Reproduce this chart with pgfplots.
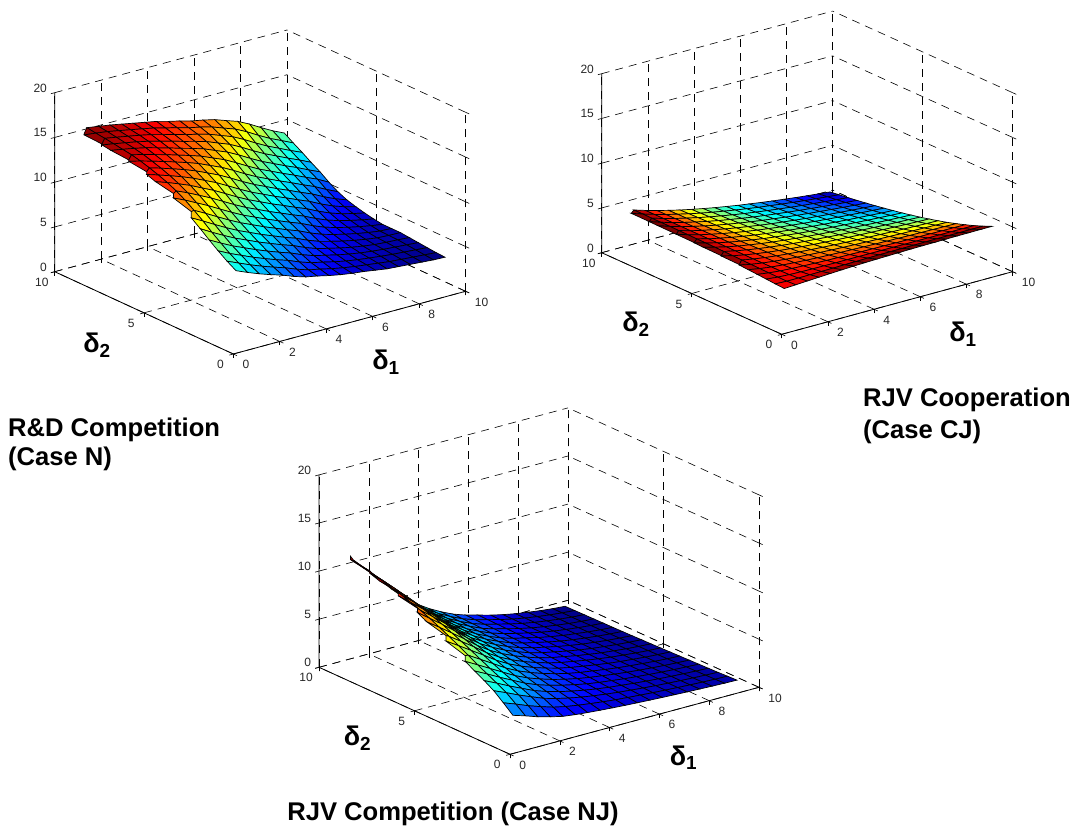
\documentclass[border=0pt]{standalone}
\usepackage{pgfplots}
\pgfplotsset{compat=1.18}
\usepackage{fontspec}
\setmainfont{Liberation Sans}
\pgfplotsset{
 base/.style={
  xmin=0,xmax=10,ymin=0,ymax=10,zmin=0,zmax=20,
  xtick={0,2,4,6,8,10},ytick={0,5,10},ztick={0,5,10,15,20},
  grid=major,
  grid style={black,line width=0.6bp,dash pattern=on 8bp off 6bp},
  tick align=outside, major tick length=4bp,
  tick pos=left,
  tick style={black,line width=0.6bp},
  axis line style={draw=none},
  /pgf/number format/assume math mode=true,
  ticklabel style={font=\fontsize{12bp}{12bp}\selectfont,text=black!85,inner sep=0pt},
  xticklabel style={anchor=west,xshift=5.5bp,yshift=-9bp},
  yticklabel style={anchor=center,xshift=-9bp,yshift=-9.5bp},
  zticklabel style={anchor=east,xshift=-4bp,yshift=3bp},
  colormap/jet, clip=false,
 },
 srf/.style={surf,shader=flat corner,draw=black,line width=0.7bp,mesh/cols=19},
}
\tikzset{
 bold/.style={font=\bfseries\fontsize{25.6bp}{28bp}\selectfont,inner sep=0pt},
 dlt/.style={font=\bfseries\fontsize{27bp}{28bp}\selectfont,inner sep=0pt},
}
\newcommand\axlines{
 \draw[black,line width=0.8bp] (axis cs:0,10,20) -- (axis cs:0,10,0) -- (axis cs:0,0,0) -- (axis cs:10,0,0);
}
\begin{document}
\begin{tikzpicture}
\useasboundingbox (0,0) rectangle (1079bp,832bp);
\begin{axis}[base,at={(233.3bp,478bp)},anchor=origin,
 x={(23.23bp,6.27bp)},y={(-17.86bp,8.23bp)},z={(0bp,8.95bp)}]
\addplot3[srf] table[x expr={0.5+0.5*mod(\coordindex,19)},y expr={0.5+0.5*floor(\coordindex/19)},z index=0]{
z
8.50
7.95
7.45
7.00
6.60
6.10
5.70
5.45
5.15
4.90
4.70
4.55
4.35
4.15
4.05
3.95
3.85
3.75
3.70
9.10
8.54
7.99
7.49
7.03
6.61
6.10
5.68
5.41
5.11
4.86
4.65
4.49
4.32
4.15
4.05
3.95
3.85
3.75
9.80
9.15
8.59
8.03
7.53
7.05
6.63
6.10
5.67
5.38
5.07
4.81
4.60
4.44
4.28
4.15
4.05
3.95
3.85
10.55
9.85
9.19
8.63
8.07
7.56
7.08
6.64
6.10
5.65
5.34
5.03
4.77
4.55
4.38
4.25
4.15
4.05
3.95
11.35
10.60
9.90
9.24
8.68
8.11
7.60
7.11
6.66
6.10
5.63
5.30
4.99
4.72
4.50
4.32
4.22
4.15
4.05
12.10
11.40
10.66
9.95
9.29
8.72
8.15
7.64
7.13
6.67
6.10
5.62
5.27
4.95
4.68
4.45
4.26
4.18
4.15
12.80
12.13
11.44
10.71
10.00
9.34
8.77
8.20
7.68
7.16
6.69
6.10
5.60
5.23
4.91
4.63
4.40
4.21
4.15
13.40
12.81
12.15
11.49
10.76
10.05
9.38
8.81
8.24
7.71
7.19
6.70
6.10
5.58
5.20
4.87
4.59
4.35
4.15
13.90
13.38
12.82
12.18
11.54
10.82
10.10
9.43
8.86
8.28
7.75
7.21
6.71
6.10
5.57
5.16
4.83
4.54
4.30
14.30
13.86
13.36
12.83
12.20
11.58
10.87
10.15
9.48
8.90
8.32
7.79
7.24
6.73
6.10
5.55
5.12
4.79
4.50
14.65
14.24
13.81
13.35
12.83
12.23
11.63
10.92
10.20
9.52
8.94
8.36
7.83
7.27
6.74
6.10
5.53
5.09
4.75
14.95
14.58
14.19
13.77
13.33
12.84
12.26
11.67
10.98
10.25
9.57
8.99
8.40
7.86
7.29
6.76
6.10
5.52
5.05
15.20
14.88
14.51
14.13
13.72
13.31
12.85
12.28
11.72
11.03
10.30
9.62
9.03
8.45
7.90
7.32
6.77
6.10
5.50
15.35
15.12
14.81
14.44
14.08
13.68
13.29
12.86
12.31
11.77
11.08
10.35
9.66
9.08
8.49
7.94
7.35
6.79
6.10
15.50
15.27
15.03
14.74
14.38
14.02
13.63
13.27
12.87
12.33
11.81
11.14
10.40
9.71
9.12
8.53
7.98
7.37
6.80
15.65
15.43
15.19
14.95
14.66
14.31
13.97
13.59
13.25
12.87
12.36
11.86
11.19
10.45
9.76
9.17
8.57
8.01
7.40
15.75
15.58
15.35
15.11
14.87
14.59
14.24
13.91
13.54
13.24
12.88
12.39
11.91
11.24
10.50
9.81
9.21
8.61
8.05
15.85
15.70
15.52
15.28
15.03
14.78
14.52
14.17
13.86
13.50
13.22
12.89
12.41
11.95
11.30
10.55
9.85
9.26
8.65
16.00
15.85
15.65
15.45
15.20
14.95
14.70
14.45
14.10
13.80
13.45
13.20
12.90
12.44
12.00
11.35
10.60
9.90
9.30
};
\axlines
\end{axis}
\begin{axis}[base,at={(781.7bp,497.7bp)},anchor=origin,
 x={(23.09bp,6.26bp)},y={(-18bp,8.16bp)},z={(0bp,8.95bp)}]
\addplot3[srf,point meta min=0.6,point meta max=4.8] table[x expr={0.5+0.5*mod(\coordindex,19)},y expr={0.5+0.5*floor(\coordindex/19)},z index=0]{
z
4.31
4.37
4.45
4.52
4.59
4.65
4.71
4.75
4.79
4.82
4.85
4.88
4.90
4.91
4.93
4.94
4.95
4.96
4.96
4.37
4.32
4.32
4.34
4.36
4.38
4.41
4.43
4.45
4.47
4.48
4.49
4.50
4.51
4.52
4.52
4.52
4.53
4.53
4.45
4.32
4.25
4.21
4.19
4.18
4.17
4.17
4.17
4.16
4.16
4.16
4.15
4.15
4.15
4.14
4.14
4.14
4.13
4.52
4.34
4.21
4.13
4.07
4.02
3.98
3.95
3.93
3.90
3.88
3.87
3.85
3.83
3.82
3.81
3.79
3.78
3.77
4.59
4.36
4.19
4.07
3.97
3.89
3.82
3.77
3.72
3.68
3.64
3.61
3.58
3.55
3.52
3.50
3.48
3.46
3.44
4.65
4.38
4.18
4.02
3.89
3.78
3.69
3.61
3.54
3.48
3.43
3.38
3.33
3.29
3.25
3.22
3.19
3.16
3.13
4.71
4.41
4.17
3.98
3.82
3.69
3.57
3.47
3.38
3.30
3.23
3.17
3.11
3.06
3.01
2.96
2.92
2.88
2.85
4.75
4.43
4.17
3.95
3.77
3.61
3.47
3.35
3.24
3.15
3.06
2.98
2.91
2.85
2.79
2.73
2.68
2.63
2.59
4.79
4.45
4.17
3.93
3.72
3.54
3.38
3.24
3.12
3.01
2.91
2.81
2.73
2.65
2.58
2.51
2.45
2.40
2.34
4.82
4.47
4.16
3.90
3.68
3.48
3.30
3.15
3.01
2.88
2.76
2.66
2.56
2.47
2.39
2.31
2.24
2.18
2.12
4.85
4.48
4.16
3.88
3.64
3.43
3.23
3.06
2.91
2.76
2.63
2.52
2.41
2.31
2.22
2.13
2.05
1.97
1.90
4.88
4.49
4.15
3.87
3.61
3.38
3.17
2.98
2.81
2.66
2.52
2.39
2.27
2.16
2.05
1.96
1.87
1.78
1.71
4.90
4.50
4.15
3.85
3.58
3.33
3.11
2.91
2.73
2.56
2.41
2.27
2.14
2.01
1.90
1.80
1.70
1.61
1.52
4.91
4.51
4.14
3.83
3.55
3.29
3.06
2.85
2.65
2.47
2.31
2.16
2.01
1.88
1.76
1.65
1.54
1.44
1.34
4.93
4.52
4.14
3.82
3.52
3.25
3.01
2.79
2.58
2.39
2.22
2.05
1.90
1.76
1.63
1.51
1.39
1.28
1.18
4.94
4.52
4.14
3.81
3.50
3.22
2.96
2.73
2.51
2.31
2.13
1.96
1.80
1.65
1.51
1.37
1.25
1.13
1.02
4.95
4.52
4.14
3.79
3.48
3.19
2.92
2.68
2.45
2.24
2.05
1.87
1.70
1.54
1.39
1.25
1.12
0.99
0.87
4.96
4.53
4.14
3.78
3.46
3.16
2.88
2.63
2.40
2.18
1.97
1.78
1.61
1.44
1.28
1.13
0.99
0.86
0.74
4.96
4.53
4.13
3.77
3.44
3.13
2.85
2.59
2.34
2.12
1.90
1.71
1.52
1.34
1.18
1.02
0.87
0.74
0.60
};
\axlines
\end{axis}
\begin{axis}[base,at={(510bp,77.7bp)},anchor=origin,
 x={(24.9bp,6.7bp)},y={(-19.1bp,8.7bp)},z={(0bp,9.62bp)}]
\addplot3[srf] table[x expr={0.5+0.5*mod(\coordindex,19)},y expr={0.5+0.5*floor(\coordindex/19)},z index=0]{
z
3.25
2.85
2.40
2.05
1.75
1.58
1.45
1.34
1.24
1.15
1.07
1.00
0.93
0.87
0.81
0.76
0.71
0.67
0.64
4.10
3.62
3.10
2.66
2.25
1.97
1.76
1.58
1.42
1.28
1.17
1.07
0.97
0.89
0.81
0.74
0.68
0.63
0.60
4.90
4.35
3.76
3.23
2.72
2.35
2.05
1.80
1.59
1.41
1.26
1.13
1.01
0.90
0.81
0.73
0.66
0.60
0.55
5.50
4.89
4.25
3.66
3.07
2.63
2.27
1.97
1.72
1.50
1.32
1.18
1.04
0.92
0.81
0.72
0.64
0.57
0.52
6.05
5.39
4.70
4.05
3.40
2.88
2.47
2.13
1.84
1.58
1.38
1.22
1.06
0.93
0.81
0.71
0.62
0.55
0.49
6.60
5.89
5.16
4.44
3.72
3.14
2.68
2.28
1.95
1.67
1.45
1.27
1.09
0.94
0.81
0.70
0.60
0.52
0.46
7.20
6.44
5.65
4.87
4.07
3.42
2.89
2.45
2.08
1.76
1.51
1.32
1.12
0.95
0.81
0.69
0.58
0.49
0.43
7.80
6.98
6.14
5.30
4.43
3.70
3.11
2.62
2.21
1.85
1.58
1.36
1.15
0.96
0.80
0.68
0.56
0.47
0.40
8.37
7.50
6.61
5.71
4.76
3.96
3.32
2.78
2.33
1.94
1.64
1.41
1.18
0.98
0.80
0.67
0.54
0.44
0.37
8.89
7.98
7.04
6.08
5.07
4.21
3.51
2.93
2.44
2.02
1.70
1.45
1.20
0.99
0.80
0.66
0.52
0.42
0.34
9.42
8.45
7.48
6.46
5.38
4.45
3.71
3.07
2.55
2.10
1.76
1.49
1.23
1.00
0.80
0.65
0.51
0.40
0.32
9.86
8.85
7.84
6.77
5.64
4.65
3.87
3.20
2.64
2.17
1.81
1.53
1.25
1.01
0.80
0.64
0.49
0.38
0.29
10.25
9.21
8.16
7.05
5.87
4.84
4.01
3.31
2.73
2.23
1.85
1.56
1.27
1.01
0.80
0.63
0.48
0.36
0.27
10.60
9.53
8.45
7.30
6.08
5.00
4.14
3.41
2.80
2.28
1.89
1.59
1.28
1.02
0.80
0.63
0.47
0.34
0.25
10.91
9.81
8.70
7.52
6.26
5.14
4.25
3.49
2.87
2.33
1.93
1.61
1.30
1.03
0.80
0.62
0.46
0.33
0.24
11.25
10.12
8.98
7.76
6.46
5.30
4.37
3.59
2.94
2.38
1.97
1.64
1.31
1.03
0.80
0.61
0.44
0.31
0.22
11.50
10.35
9.19
7.94
6.61
5.42
4.47
3.66
2.99
2.42
1.99
1.66
1.33
1.04
0.80
0.61
0.44
0.30
0.21
11.75
10.57
9.39
8.12
6.75
5.53
4.56
3.73
3.05
2.46
2.02
1.68
1.34
1.04
0.80
0.60
0.43
0.29
0.19
12.10
10.90
9.65
8.30
6.90
5.65
4.65
3.80
3.10
2.50
2.05
1.70
1.35
1.05
0.80
0.60
0.42
0.28
0.18
};
\axlines
\end{axis}
\node[dlt] at (386bp,470bp) {δ\textsubscript{1}};
\node[dlt] at (97bp,487bp) {δ\textsubscript{2}};
\node[dlt] at (963bp,498bp) {δ\textsubscript{1}};
\node[dlt] at (636bp,508bp) {δ\textsubscript{2}};
\node[dlt] at (683.5bp,74.5bp) {δ\textsubscript{1}};
\node[dlt] at (357.5bp,94bp) {δ\textsubscript{2}};
\node[bold,anchor=west] at (8bp,402bp) {R\&D Competition};
\node[bold,anchor=west] at (8bp,373bp) {(Case N)};
\node[bold,anchor=west] at (863bp,432bp) {RJV Cooperation};
\node[bold,anchor=west] at (863bp,400bp) {(Case CJ)};
\node[bold] at (453bp,18bp) {RJV Competition (Case NJ)};
\end{tikzpicture}
\end{document}
